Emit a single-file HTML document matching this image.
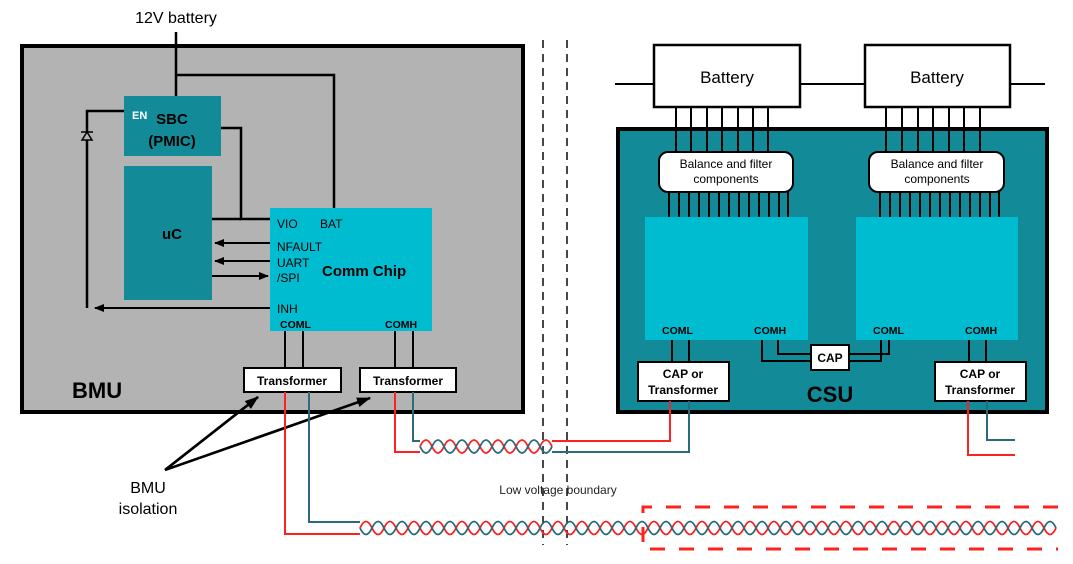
<!DOCTYPE html>
<html><head><meta charset="utf-8"><style>
html,body{margin:0;padding:0;background:#fff;}
svg{display:block;font-family:"Liberation Sans",sans-serif;}
</style></head><body>
<svg width="1073" height="564" viewBox="0 0 1073 564" xmlns="http://www.w3.org/2000/svg">
<defs>
<marker id="ah" markerWidth="10" markerHeight="8" refX="9" refY="4" orient="auto" markerUnits="userSpaceOnUse"><path d="M0,0 L10,4 L0,8 z" fill="#000"/></marker>
<marker id="ah2" markerWidth="14" markerHeight="10" refX="13" refY="5" orient="auto" markerUnits="userSpaceOnUse"><path d="M0,0 L14,5 L0,10 z" fill="#000"/></marker>
</defs>
<!-- BMU -->
<rect x="22" y="46" width="501" height="366" fill="#b3b3b3" stroke="#000" stroke-width="4"/>
<text x="176" y="23" font-size="16" text-anchor="middle">12V battery</text>
<g stroke="#000" stroke-width="2.5" fill="none">
<path d="M176,32 V96"/>
<path d="M176,75 H334 V208"/>
<path d="M221,128 H241 V219 H270"/>
<path d="M212,219 H241"/>
<path d="M124,111 H87 V308"/>
<path d="M270,308 H95" marker-end="url(#ah)" stroke-width="2"/>
<path d="M270,243 H215" marker-end="url(#ah)" stroke-width="2"/>
<path d="M270,261 H215" marker-end="url(#ah)" stroke-width="2"/>
<path d="M212,276 H268" marker-end="url(#ah)" stroke-width="2"/>
<path d="M285,331 V368 M303,331 V368 M395,331 V368 M413,331 V368" stroke-width="2"/>
</g>
<path d="M82,140 L92,140 L87,132 Z M81,132 H93" stroke="#000" stroke-width="1.5" fill="#b3b3b3"/>
<rect x="124" y="96" width="97" height="60" fill="#138a98"/>
<text x="132" y="119" font-size="11" font-weight="bold" fill="#fff">EN</text>
<text x="172" y="124" font-size="15" font-weight="bold" text-anchor="middle">SBC</text>
<text x="172" y="146" font-size="15" font-weight="bold" text-anchor="middle">(PMIC)</text>
<rect x="124" y="166" width="88" height="134" fill="#138a98"/>
<text x="172" y="239" font-size="15" font-weight="bold" text-anchor="middle">uC</text>
<rect x="270" y="208" width="162" height="123" fill="#00bcd0"/>
<g font-size="12">
<text x="277" y="228">VIO</text><text x="320" y="228">BAT</text>
<text x="277" y="251">NFAULT</text>
<text x="277" y="267">UART</text>
<text x="277" y="282">/SPI</text>
<text x="277" y="313">INH</text>
</g>
<text x="322" y="276" font-size="15" font-weight="bold">Comm Chip</text>
<text x="280" y="328" font-size="10.5" font-weight="bold">COML</text>
<text x="385" y="328" font-size="10.5" font-weight="bold">COMH</text>
<rect x="244" y="368" width="97" height="24" fill="#fff" stroke="#000" stroke-width="2"/>
<text x="292" y="385" font-size="12" font-weight="bold" text-anchor="middle">Transformer</text>
<rect x="360" y="368" width="96" height="24" fill="#fff" stroke="#000" stroke-width="2"/>
<text x="408" y="385" font-size="12" font-weight="bold" text-anchor="middle">Transformer</text>
<text x="72" y="398" font-size="22" font-weight="bold">BMU</text>
<!-- isolation arrows -->
<path d="M165,470 L258,397 M165,470 L370,398" stroke="#000" stroke-width="2.5" fill="none"/>
<path d="M165,470 L258,397" stroke="#000" stroke-width="2.5" marker-end="url(#ah2)"/>
<path d="M165,470 L370,398" stroke="#000" stroke-width="2.5" marker-end="url(#ah2)"/>
<text x="148" y="493" font-size="16" text-anchor="middle">BMU</text>
<text x="148" y="514" font-size="16" text-anchor="middle">isolation</text>
<!-- boundary -->
<path d="M543,40 V545 M567,40 V545" stroke="#333" stroke-width="1.8" stroke-dasharray="8,6"/>
<text x="558" y="494" font-size="12" fill="#222" text-anchor="middle">Low voltage boundary</text>
<!-- batteries -->
<path d="M615,84 H1045" stroke="#000" stroke-width="2"/>
<rect x="654" y="45" width="146" height="62" fill="#fff" stroke="#000" stroke-width="2.5"/>
<text x="727" y="83" font-size="17" text-anchor="middle">Battery</text>
<rect x="865" y="45" width="145" height="62" fill="#fff" stroke="#000" stroke-width="2.5"/>
<text x="937" y="83" font-size="17" text-anchor="middle">Battery</text>
<!-- CSU -->
<rect x="618" y="129" width="429" height="283" fill="#138a98" stroke="#000" stroke-width="4"/>
<g stroke="#000" stroke-width="2">
<path d="M676,107V152 M691,107V152 M707,107V152 M722,107V152 M738,107V152 M753,107V152 M768,107V152"/>
<path d="M886,107V152 M902,107V152 M918,107V152 M933,107V152 M949,107V152 M964,107V152 M980,107V152"/>
<path d="M669,192V217 M679,192V217 M689,192V217 M699,192V217 M709,192V217 M719,192V217 M729,192V217 M739,192V217 M749,192V217 M759,192V217 M769,192V217 M779,192V217 M788,192V217"/>
<path d="M880,192V217 M890,192V217 M900,192V217 M910,192V217 M920,192V217 M930,192V217 M940,192V217 M950,192V217 M960,192V217 M970,192V217 M980,192V217 M990,192V217 M999,192V217"/>
</g>
<rect x="659" y="152" width="134" height="40" rx="9" fill="#fff" stroke="#000" stroke-width="2"/>
<text x="726" y="168" font-size="12" text-anchor="middle">Balance and filter</text>
<text x="726" y="183" font-size="12" text-anchor="middle">components</text>
<rect x="869" y="152" width="135" height="40" rx="9" fill="#fff" stroke="#000" stroke-width="2"/>
<text x="937" y="168" font-size="12" text-anchor="middle">Balance and filter</text>
<text x="937" y="183" font-size="12" text-anchor="middle">components</text>
<rect x="645" y="217" width="163" height="123" fill="#00bcd0"/>
<rect x="856" y="217" width="162" height="123" fill="#00bcd0"/>
<g font-size="10.5" font-weight="bold">
<text x="662" y="334">COML</text><text x="754" y="334">COMH</text>
<text x="873" y="334">COML</text><text x="965" y="334">COMH</text>
</g>
<g stroke="#000" stroke-width="2" fill="none">
<path d="M672,340V362 M689,340V362"/>
<path d="M762,340V361H811 M778,340V354H811"/>
<path d="M849,354H889V340 M849,361H881V340"/>
<path d="M969,340V362 M986,340V362"/>
</g>
<rect x="811" y="345" width="38" height="25" fill="#fff" stroke="#000" stroke-width="2"/>
<text x="830" y="362" font-size="12" font-weight="bold" text-anchor="middle">CAP</text>
<rect x="638" y="362" width="91" height="39" fill="#fff" stroke="#000" stroke-width="2"/>
<text x="683" y="378" font-size="12" font-weight="bold" text-anchor="middle">CAP or</text>
<text x="683" y="394" font-size="12" font-weight="bold" text-anchor="middle">Transformer</text>
<rect x="935" y="362" width="91" height="39" fill="#fff" stroke="#000" stroke-width="2"/>
<text x="980" y="378" font-size="12" font-weight="bold" text-anchor="middle">CAP or</text>
<text x="980" y="394" font-size="12" font-weight="bold" text-anchor="middle">Transformer</text>
<text x="830" y="402" font-size="22" font-weight="bold" text-anchor="middle">CSU</text>
<!-- wires -->
<g fill="none" stroke-width="2">
<path d="M285,392V534H360" stroke="#ff2020"/>
<path d="M309,392V522H360" stroke="#2a6a7a"/>
<path d="M395,392V452H420" stroke="#ff2020"/>
<path d="M413,392V441H420" stroke="#2a6a7a"/>
<path d="M552,441H670V401" stroke="#ff2020"/>
<path d="M552,452H689V401" stroke="#2a6a7a"/>
<path d="M968,401V455H1015" stroke="#ff2020"/>
<path d="M987,401V440H1015" stroke="#2a6a7a"/>
</g>
<g fill="none" stroke-width="1.8">
<path d="M420,452 C424,452 426,441 432,441 t6,0" stroke="none"/>
<path d="M420,446.5 q6,-13 12,0 t12,0 t12,0 t12,0 t12,0 t12,0 t12,0 t12,0 t12,0 t12,0 t12,0" stroke="#ff2020"/>
<path d="M420,446.5 q6,13 12,0 t12,0 t12,0 t12,0 t12,0 t12,0 t12,0 t12,0 t12,0 t12,0 t12,0" stroke="#2a6a7a"/>
<path d="M360,528 q6,-13 12,0 t12,0 t12,0 t12,0 t12,0 t12,0 t12,0 t12,0 t12,0 t12,0 t12,0 t12,0 t12,0 t12,0 t12,0 t12,0 t12,0 t12,0 t12,0 t12,0 t12,0 t12,0 t12,0 t12,0 t12,0 t12,0 t12,0 t12,0 t12,0 t12,0 t12,0 t12,0 t12,0 t12,0 t12,0 t12,0 t12,0 t12,0 t12,0 t12,0 t12,0 t12,0 t12,0 t12,0 t12,0 t12,0 t12,0 t12,0 t12,0 t12,0 t12,0 t12,0 t12,0 t12,0 t12,0 t12,0 t12,0 t12,0" stroke="#ff2020"/>
<path d="M360,528 q6,13 12,0 t12,0 t12,0 t12,0 t12,0 t12,0 t12,0 t12,0 t12,0 t12,0 t12,0 t12,0 t12,0 t12,0 t12,0 t12,0 t12,0 t12,0 t12,0 t12,0 t12,0 t12,0 t12,0 t12,0 t12,0 t12,0 t12,0 t12,0 t12,0 t12,0 t12,0 t12,0 t12,0 t12,0 t12,0 t12,0 t12,0 t12,0 t12,0 t12,0 t12,0 t12,0 t12,0 t12,0 t12,0 t12,0 t12,0 t12,0 t12,0 t12,0 t12,0 t12,0 t12,0 t12,0 t12,0 t12,0 t12,0 t12,0" stroke="#2a6a7a"/>
</g>
<path d="M1058,507H643V549H1058" fill="none" stroke="#ff2020" stroke-width="3" stroke-dasharray="15,14"/>
</svg>
</body></html>
